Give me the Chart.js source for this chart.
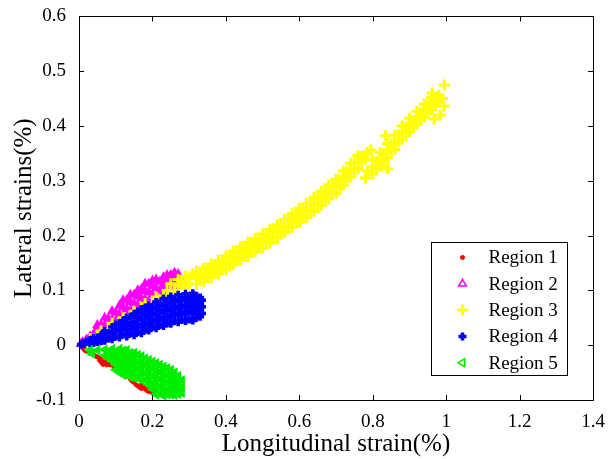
<!DOCTYPE html>
<html>
<head>
<meta charset="utf-8">
<title>Lateral vs longitudinal strain</title>
<script src="https://cdn.jsdelivr.net/npm/chart.js"></script>
<style>
  html, body { margin: 0; padding: 0; background: #fff; }
  #wrap { width: 608px; height: 459px; }
</style>
</head>
<body>
<div id="wrap"><canvas id="chart" width="608" height="459"></canvas></div>
<script>
// Axis ticks
const xTicks = [0, 0.2, 0.4, 0.6, 0.8, 1, 1.2, 1.4];
const yTicks = [-0.1, 0, 0.1, 0.2, 0.3, 0.4, 0.5, 0.6];

const regionNames = ['Region 1', 'Region 2', 'Region 3', 'Region 4', 'Region 5'];

// Region 1 (red dots)
const region1 = [
  [0.01,-0.005],[0.015,-0.009],[0.02,-0.011],[0.025,-0.012],[0.03,-0.015],[0.035,-0.016],
  [0.04,-0.018],[0.045,-0.02],[0.05,-0.021],[0.055,-0.022],[0.055,-0.027],[0.06,-0.025],
  [0.06,-0.031],[0.065,-0.03],[0.065,-0.035],[0.07,-0.032],[0.075,-0.028],[0.075,-0.036],
  [0.08,-0.034],[0.085,-0.036],[0.09,-0.033],[0.095,-0.04],[0.1,-0.043],[0.11,-0.047],
  [0.12,-0.052],[0.13,-0.057],[0.14,-0.062],[0.145,-0.066],[0.15,-0.068],[0.155,-0.072],
  [0.16,-0.074],[0.165,-0.077],[0.17,-0.072],[0.17,-0.079],[0.175,-0.076],[0.18,-0.08],
  [0.185,-0.083],[0.19,-0.08],[0.19,-0.085],[0.18,-0.036],[0.2,-0.087],[0.21,-0.09]
];

// Region 2 (magenta triangles)
const region2 = [
  [0.005,0.002],[0.01,0.006],[0.015,0.004],[0.02,0.01],[0.025,0.007],[0.03,0.016],
  [0.035,0.012],[0.04,0.02],[0.04,0.01],[0.045,0.026],
  [0.05,0.013],[0.05,0.025],[0.05,0.037],[0.06,0.024],[0.06,0.037],
  [0.07,0.022],[0.07,0.036],[0.07,0.05],[0.08,0.034],[0.08,0.048],
  [0.09,0.03],[0.09,0.046],[0.09,0.062],[0.1,0.043],[0.1,0.059],
  [0.11,0.04],[0.11,0.056],[0.11,0.072],[0.12,0.053],[0.12,0.069],[0.12,0.082],
  [0.13,0.05],[0.13,0.066],[0.13,0.082],[0.14,0.063],[0.14,0.079],[0.14,0.092],
  [0.15,0.06],[0.15,0.076],[0.15,0.092],[0.16,0.073],[0.16,0.089],[0.16,0.1],
  [0.17,0.07],[0.17,0.086],[0.17,0.102],[0.18,0.083],[0.18,0.099],[0.18,0.112],
  [0.19,0.08],[0.19,0.096],[0.19,0.112],[0.2,0.092],[0.2,0.108],[0.2,0.118],
  [0.21,0.088],[0.21,0.104],[0.21,0.12],[0.22,0.1],[0.22,0.116],
  [0.23,0.096],[0.23,0.11],[0.23,0.124],[0.24,0.106],[0.24,0.12],[0.24,0.128],
  [0.25,0.102],[0.25,0.115],[0.25,0.128],[0.26,0.11],[0.26,0.124],[0.26,0.132],
  [0.27,0.108],[0.27,0.12],[0.27,0.13],[0.28,0.118]
];

// Region 3 (yellow crosses)
const region3 = [
  [0.02,0.004],[0.03,0.012],[0.05,0.018],[0.06,0.026],[0.08,0.03],[0.09,0.04],
  [0.11,0.042],[0.12,0.05],[0.14,0.052],[0.15,0.062],[0.17,0.066],[0.18,0.076],
  [0.2,0.078],[0.21,0.088],[0.23,0.09],[0.24,0.1],[0.25,0.112],[0.26,0.098],
  [0.27,0.108],[0.27,0.12],[0.28,0.116],[0.29,0.104],[0.29,0.126],[0.3,0.112],
  [0.3,0.122],[0.31,0.13],
  [0.32,0.111],[0.32,0.123],[0.32,0.135],[0.33,0.12],[0.33,0.132],
  [0.34,0.116],[0.34,0.128],[0.34,0.141],[0.35,0.125],[0.35,0.137],
  [0.36,0.123],[0.36,0.135],[0.36,0.148],[0.37,0.132],[0.37,0.144],
  [0.38,0.13],[0.38,0.142],[0.38,0.155],[0.39,0.14],[0.39,0.152],
  [0.4,0.137],[0.4,0.15],[0.4,0.163],[0.41,0.149],[0.41,0.161],
  [0.42,0.147],[0.42,0.16],[0.42,0.172],[0.43,0.158],[0.43,0.17],
  [0.44,0.155],[0.44,0.168],[0.44,0.18],[0.45,0.165],[0.45,0.177],
  [0.46,0.162],[0.46,0.175],[0.46,0.188],[0.47,0.172],[0.47,0.184],
  [0.48,0.17],[0.48,0.182],[0.48,0.195],[0.49,0.18],[0.49,0.192],
  [0.5,0.177],[0.5,0.19],[0.5,0.203],[0.51,0.188],[0.51,0.2],
  [0.52,0.186],[0.52,0.198],[0.52,0.211],[0.53,0.197],[0.53,0.209],
  [0.54,0.195],[0.54,0.207],[0.54,0.22],[0.55,0.206],[0.55,0.218],
  [0.56,0.205],[0.56,0.217],[0.56,0.23],[0.57,0.217],[0.57,0.229],
  [0.58,0.215],[0.58,0.228],[0.58,0.24],[0.59,0.226],[0.59,0.238],
  [0.6,0.224],[0.6,0.237],[0.6,0.25],[0.61,0.235],[0.61,0.247],
  [0.62,0.233],[0.62,0.246],[0.62,0.259],[0.63,0.246],[0.63,0.258],
  [0.64,0.244],[0.64,0.257],[0.64,0.27],[0.65,0.256],[0.65,0.268],
  [0.66,0.255],[0.66,0.268],[0.66,0.281],[0.67,0.268],[0.67,0.28],
  [0.68,0.267],[0.68,0.28],[0.68,0.293],[0.69,0.278],[0.69,0.29],
  [0.7,0.277],[0.7,0.29],[0.7,0.303],[0.71,0.29],[0.71,0.302],
  [0.72,0.292],[0.72,0.305],[0.72,0.318],[0.73,0.305],[0.73,0.317],
  [0.74,0.307],[0.74,0.32],[0.74,0.332],[0.75,0.32],[0.75,0.332],
  [0.76,0.322],[0.76,0.334],[0.76,0.346],[0.77,0.335],[0.77,0.345],
  [0.78,0.34],[0.785,0.352],
  [0.78,0.305],[0.785,0.318],
  [0.8,0.312],[0.8,0.325],[0.8,0.338],[0.81,0.323],[0.81,0.335],
  [0.82,0.326],[0.82,0.338],[0.82,0.351],[0.83,0.338],[0.83,0.35],
  [0.84,0.342],[0.84,0.355],[0.84,0.368],[0.85,0.355],[0.85,0.367],
  [0.86,0.357],[0.86,0.37],[0.86,0.383],[0.87,0.372],[0.87,0.384],
  [0.88,0.375],[0.88,0.388],[0.88,0.4],[0.89,0.387],[0.89,0.398],
  [0.9,0.39],[0.9,0.402],[0.9,0.414],[0.91,0.398],[0.91,0.41],
  [0.92,0.403],[0.92,0.415],[0.92,0.427],[0.93,0.412],[0.93,0.424],
  [0.94,0.416],[0.94,0.428],[0.94,0.44],[0.95,0.425],[0.95,0.437],
  [0.96,0.43],[0.96,0.442],[0.96,0.452],[0.97,0.437],[0.97,0.449],
  [0.98,0.444],[0.98,0.456],[0.99,0.45],
  [0.995,0.475],[0.962,0.46],[0.967,0.413],[0.984,0.42],[0.994,0.436],
  [0.795,0.356],[0.835,0.382],[0.84,0.322]
];

// Region 4 (blue)
const region4 = [
  [0.005,0.001],[0.01,0.004],[0.015,0.002],[0.02,0.007],
  [0.03,0.003],[0.03,0.01],[0.035,0.006],[0.04,0.013],[0.04,0.004],
  [0.05,0.006],[0.05,0.014],[0.055,0.01],[0.06,0.018],[0.06,0.007],
  [0.07,0.008],[0.07,0.017],[0.07,0.026],[0.08,0.012],[0.08,0.022],
  [0.09,0.011],[0.09,0.022],[0.09,0.033],[0.1,0.016],[0.1,0.028],[0.1,0.038],
  [0.11,0.014],[0.11,0.027],[0.11,0.04],[0.12,0.02],[0.12,0.033],[0.12,0.045],
  [0.13,0.016],[0.13,0.029],[0.13,0.041],[0.13,0.05],[0.14,0.022],[0.14,0.036],[0.14,0.052],
  [0.15,0.018],[0.15,0.03],[0.15,0.043],[0.15,0.057],[0.16,0.024],[0.16,0.037],[0.16,0.051],[0.16,0.062],
  [0.17,0.022],[0.17,0.034],[0.17,0.047],[0.17,0.06],[0.17,0.066],
  [0.18,0.028],[0.18,0.041],[0.18,0.054],[0.18,0.069],
  [0.19,0.027],[0.19,0.039],[0.19,0.051],[0.19,0.063],[0.19,0.073],
  [0.2,0.033],[0.2,0.045],[0.2,0.058],[0.2,0.07],
  [0.21,0.031],[0.21,0.043],[0.21,0.055],[0.21,0.067],[0.21,0.079],
  [0.22,0.037],[0.22,0.05],[0.22,0.063],[0.22,0.075],
  [0.23,0.035],[0.23,0.047],[0.23,0.06],[0.23,0.072],[0.23,0.085],
  [0.24,0.04],[0.24,0.053],[0.24,0.066],[0.24,0.079],
  [0.25,0.039],[0.25,0.052],[0.25,0.064],[0.25,0.077],[0.25,0.089],
  [0.26,0.044],[0.26,0.058],[0.26,0.07],[0.26,0.083],
  [0.27,0.042],[0.27,0.055],[0.27,0.067],[0.27,0.08],[0.27,0.092],
  [0.28,0.046],[0.28,0.06],[0.28,0.073],[0.28,0.086],
  [0.29,0.044],[0.29,0.057],[0.29,0.069],[0.29,0.082],[0.29,0.094],
  [0.3,0.047],[0.3,0.062],[0.3,0.075],[0.3,0.088],
  [0.31,0.045],[0.31,0.058],[0.31,0.07],[0.31,0.083],[0.31,0.095],
  [0.32,0.05],[0.32,0.064],[0.32,0.077],[0.32,0.09],
  [0.33,0.052],[0.33,0.064],[0.33,0.076],[0.33,0.087],
  [0.335,0.058],[0.335,0.07],[0.335,0.082]
];

// Region 5 (green left triangles)
const region5 = [
  [0.03,-0.009],[0.035,-0.015],[0.05,-0.009],
  [0.07,-0.008],[0.07,-0.019],[0.08,-0.012],[0.08,-0.024],
  [0.09,-0.007],[0.09,-0.018],[0.09,-0.029],[0.1,-0.012],[0.1,-0.024],[0.1,-0.035],[0.1,-0.045],
  [0.11,-0.007],[0.11,-0.018],[0.11,-0.029],[0.11,-0.04],[0.11,-0.05],
  [0.12,-0.01],[0.12,-0.022],[0.12,-0.034],[0.12,-0.045],[0.12,-0.054],
  [0.13,-0.009],[0.13,-0.02],[0.13,-0.031],[0.13,-0.042],[0.13,-0.053],
  [0.14,-0.014],[0.14,-0.026],[0.14,-0.038],[0.14,-0.05],[0.14,-0.058],
  [0.15,-0.014],[0.15,-0.026],[0.15,-0.038],[0.15,-0.05],[0.15,-0.06],
  [0.16,-0.018],[0.16,-0.031],[0.16,-0.044],[0.16,-0.057],
  [0.17,-0.02],[0.17,-0.032],[0.17,-0.044],[0.17,-0.056],[0.17,-0.064],
  [0.18,-0.024],[0.18,-0.037],[0.18,-0.05],[0.18,-0.063],
  [0.19,-0.027],[0.19,-0.039],[0.19,-0.051],[0.19,-0.063],[0.19,-0.072],
  [0.2,-0.03],[0.2,-0.043],[0.2,-0.056],[0.2,-0.069],[0.2,-0.08],
  [0.21,-0.033],[0.21,-0.045],[0.21,-0.057],[0.21,-0.069],[0.21,-0.081],[0.21,-0.09],
  [0.22,-0.036],[0.22,-0.049],[0.22,-0.062],[0.22,-0.075],[0.22,-0.088],
  [0.23,-0.039],[0.23,-0.051],[0.23,-0.063],[0.23,-0.075],[0.23,-0.087],[0.23,-0.092],
  [0.24,-0.042],[0.24,-0.055],[0.24,-0.068],[0.24,-0.081],[0.24,-0.09],
  [0.25,-0.045],[0.25,-0.057],[0.25,-0.069],[0.25,-0.081],[0.25,-0.09],
  [0.26,-0.05],[0.26,-0.062],[0.26,-0.074],[0.26,-0.086],[0.26,-0.091],
  [0.27,-0.056],[0.27,-0.067],[0.27,-0.078],[0.27,-0.089],
  [0.28,-0.064],[0.28,-0.076],[0.28,-0.087]
];

const FONT = '"Liberation Serif", "Times New Roman", serif';

// Build points list for chart.js
const toPoints = (arr) => arr.map(([x, y]) => ({ x, y }));

// Format tick like MATLAB: 0, 0.2, 1, 1.2
const fmtTick = (v) => String(+Number(v).toFixed(1));

// Box around the plot + inward ticks on all four sides
const boxPlugin = {
  id: 'box',
  afterDatasetsDraw(chart) {
    const { ctx, chartArea: a, scales } = chart;
    const len = 5;
    ctx.save();
    ctx.strokeStyle = '#000';
    ctx.lineWidth = 1;
    ctx.beginPath();
    scales.x.ticks.forEach((t) => {
      const px = Math.round(scales.x.getPixelForValue(t.value)) + 0.5;
      ctx.moveTo(px, a.bottom); ctx.lineTo(px, a.bottom - len);
      ctx.moveTo(px, a.top); ctx.lineTo(px, a.top + len);
    });
    scales.y.ticks.forEach((t) => {
      const py = Math.round(scales.y.getPixelForValue(t.value)) + 0.5;
      ctx.moveTo(a.left, py); ctx.lineTo(a.left + len, py);
      ctx.moveTo(a.right, py); ctx.lineTo(a.right - len, py);
    });
    ctx.stroke();
    ctx.strokeRect(Math.round(a.left) + 0.5, Math.round(a.top) + 0.5,
      Math.round(a.right - a.left), Math.round(a.bottom - a.top));
    ctx.restore();
  },
};

// Legend box inside the plot, bottom right
const legendPlugin = {
  id: 'boxLegend',
  afterDraw(chart) {
    const { ctx, chartArea: a } = chart;
    const w = 136, h = 133;
    const x0 = Math.round(a.right - 26 - w) + 0.5;
    const y0 = Math.round(a.bottom - 25 - h) + 0.5;
    ctx.save();
    ctx.fillStyle = '#fff';
    ctx.fillRect(x0, y0, w, h);
    ctx.strokeStyle = '#000';
    ctx.lineWidth = 1;
    ctx.strokeRect(x0, y0, w, h);
    ctx.font = '19px ' + FONT;
    ctx.textBaseline = 'middle';
    ctx.textAlign = 'left';
    chart.data.datasets.forEach((ds, i) => {
      const cy = y0 + 15 + i * 26.3;
      ctx.fillStyle = ds.legendFill;
      ctx.strokeStyle = ds.borderColor;
      ctx.lineWidth = ds.borderWidth;
      Chart.helpers.drawPoint(ctx, {
        pointStyle: ds.pointStyle,
        radius: ds.pointRadius,
        rotation: ds.pointRotation || 0,
        borderWidth: ds.borderWidth,
      }, x0 + 31, cy);
      ctx.fillStyle = '#000';
      ctx.fillText(ds.label, x0 + 57, cy + 1);
    });
    ctx.restore();
  },
};

const datasets = [
  { label: regionNames[0], data: toPoints(region1), pointStyle: 'circle', pointRadius: 2,
    backgroundColor: '#ff0000', borderColor: '#ff0000', borderWidth: 1, legendFill: '#ff0000', order: 5 },
  { label: regionNames[1], data: toPoints(region2), pointStyle: 'triangle', pointRadius: 4.5,
    backgroundColor: '#ff00ff', borderColor: '#ff00ff', borderWidth: 1.5, legendFill: 'rgba(0,0,0,0)', order: 4 },
  { label: regionNames[2], data: toPoints(region3), pointStyle: 'cross', pointRadius: 5.5,
    backgroundColor: '#ffff00', borderColor: '#ffff00', borderWidth: 3, legendFill: '#ffff00', order: 3 },
  { label: regionNames[3], data: toPoints(region4), pointStyle: 'cross', pointRadius: 4,
    backgroundColor: '#0000ff', borderColor: '#0000ff', borderWidth: 3.5, legendFill: '#0000ff', order: 2 },
  { label: regionNames[4], data: toPoints(region5), pointStyle: 'triangle', pointRadius: 4.5,
    pointRotation: -90, backgroundColor: '#00ee00', borderColor: '#00ee00',
    borderWidth: 1.5, legendFill: 'rgba(0,0,0,0)', order: 1 },
];
datasets.forEach((d) => { d.showLine = false; d.clip = false; d.pointHoverRadius = d.pointRadius; });

new Chart(document.getElementById('chart'), {
  type: 'scatter',
  data: { datasets },
  options: {
    responsive: false,
    animation: false,
    devicePixelRatio: 1,
    layout: { padding: { top: 15, right: 11, left: 0, bottom: 0 } },
    plugins: { legend: { display: false }, tooltip: { enabled: false } },
    scales: {
      x: {
        type: 'linear',
        min: 0, max: 1.4,
        afterBuildTicks: (s) => { s.ticks = xTicks.map((v) => ({ value: v })); },
        afterFit: (s) => { s.height = 59; },
        grid: { display: false },
        border: { display: false },
        ticks: { color: '#000', padding: 3, maxRotation: 0, font: { family: FONT, size: 19 }, callback: fmtTick },
        title: { display: true, text: 'Longitudinal strain(%)', color: '#000',
          font: { family: FONT, size: 25 }, padding: { top: 9, bottom: 0 } },
      },
      y: {
        type: 'linear',
        min: -0.1, max: 0.6,
        afterBuildTicks: (s) => { s.ticks = yTicks.map((v) => ({ value: v })); },
        afterFit: (s) => { s.width = 79; },
        grid: { display: false },
        border: { display: false },
        ticks: { color: '#000', padding: 5, font: { family: FONT, size: 19 }, callback: fmtTick },
        title: { display: true, text: 'Lateral strains(%)', color: '#000',
          font: { family: FONT, size: 25 }, padding: { top: 9, bottom: 0 } },
      },
    },
  },
  plugins: [boxPlugin, legendPlugin],
});
</script>
</body>
</html>
